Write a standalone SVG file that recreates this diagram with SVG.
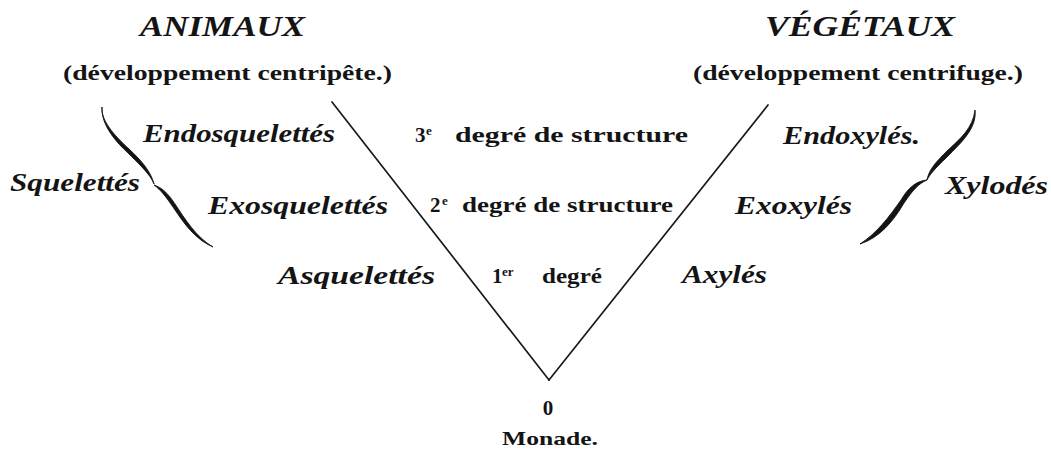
<svg xmlns="http://www.w3.org/2000/svg" width="1051" height="454" viewBox="0 0 1051 454">
<style>
  .bi { font-family: "Liberation Serif", "DejaVu Serif", serif; font-weight: bold; font-style: italic; fill: #141414; }
  .b { font-family: "Liberation Serif", "DejaVu Serif", serif; font-weight: bold; fill: #141414; }
  .sup { font-size: 13px; }
  .ln { stroke: #1a1a1a; stroke-width: 1.7; fill: none; stroke-linecap: round; }
  .brace { fill: #141414; stroke: #141414; stroke-width: 0.9; stroke-linejoin: round; }
</style>
<rect width="1051" height="454" fill="#ffffff"/>

<g id="animaux">
  <text class="bi" x="140" y="36" font-size="29" textLength="165" lengthAdjust="spacingAndGlyphs">ANIMAUX</text>
  <text class="b" x="63" y="80" font-size="21" textLength="329" lengthAdjust="spacingAndGlyphs">(développement centripête.)</text>
</g>
<g id="vegetaux">
  <text class="bi" x="765" y="36" font-size="29" textLength="190" lengthAdjust="spacingAndGlyphs">VÉGÉTAUX</text>
  <text class="b" x="693" y="80" font-size="21" textLength="330" lengthAdjust="spacingAndGlyphs">(développement centrifuge.)</text>
</g>

<g id="connectors">
  <line class="ln" x1="332" y1="102" x2="549" y2="380"/>
  <line class="ln" x1="768" y1="105" x2="549" y2="380"/>
</g>

<g id="brace-squelettes">
  <path class="brace" d="M102,107 C101,121 114,135 129,149 C142,161 151,172 154,184 C150,174 140,165 127,152 C113,139 101,123 102,107 Z"/>
  <path class="brace" d="M154,185 C162,188 167,192 175,204 C185,219 196,237 213,247 C195,239 185,225 173,207 C166,197 161,190 154,185 Z"/>
</g>
<g id="brace-xylodes">
  <path class="brace" d="M975,110 C977,127 963,141 950,154 C939,165 931,172 927,180 C929,169 937,161 947,151 C960,139 973,128 975,110 Z"/>
  <path class="brace" d="M927,180 C918,184 913,190 904,203 C893,222 879,238 860,244 C877,233 889,217 901,200 C908,188 916,181 927,180 Z"/>
</g>

<g id="squelettes">
  <text class="bi" x="10" y="191" font-size="25" textLength="130" lengthAdjust="spacingAndGlyphs">Squelettés</text>
</g>
<g id="endosquelettes">
  <text class="bi" x="143" y="142" font-size="25" textLength="192" lengthAdjust="spacingAndGlyphs">Endosquelettés</text>
</g>
<g id="exosquelettes">
  <text class="bi" x="208" y="214" font-size="25" textLength="180" lengthAdjust="spacingAndGlyphs">Exosquelettés</text>
</g>
<g id="asquelettes">
  <text class="bi" x="278" y="284" font-size="25" textLength="157" lengthAdjust="spacingAndGlyphs">Asquelettés</text>
</g>

<g id="degre3">
  <text class="b" x="415" y="142" font-size="21">3</text>
  <text class="b sup" x="426" y="135">e</text>
  <text class="b" x="455" y="142" font-size="21" textLength="233" lengthAdjust="spacingAndGlyphs">degré  de  structure</text>
</g>
<g id="degre2">
  <text class="b" x="430" y="212" font-size="21">2</text>
  <text class="b sup" x="442" y="205">e</text>
  <text class="b" x="462" y="212" font-size="21" textLength="211" lengthAdjust="spacingAndGlyphs">degré de structure</text>
</g>
<g id="degre1">
  <text class="b" x="492" y="283" font-size="21">1</text>
  <text class="b sup" x="502" y="276">er</text>
  <text class="b" x="542" y="283" font-size="21" textLength="60" lengthAdjust="spacingAndGlyphs">degré</text>
</g>

<g id="endoxyles">
  <text class="bi" x="783" y="144" font-size="25" textLength="137" lengthAdjust="spacingAndGlyphs">Endoxylés.</text>
</g>
<g id="xylodes">
  <text class="bi" x="945" y="194" font-size="25" textLength="103" lengthAdjust="spacingAndGlyphs">Xylodés</text>
</g>
<g id="exoxyles">
  <text class="bi" x="735" y="214" font-size="25" textLength="117" lengthAdjust="spacingAndGlyphs">Exoxylés</text>
</g>
<g id="axyles">
  <text class="bi" x="682" y="283" font-size="25" textLength="85" lengthAdjust="spacingAndGlyphs">Axylés</text>
</g>

<g id="monade">
  <text class="b" x="548" y="415" font-size="21" text-anchor="middle">0</text>
  <text class="b" x="502" y="445" font-size="19" textLength="96" lengthAdjust="spacingAndGlyphs">Monade.</text>
</g>
</svg>
